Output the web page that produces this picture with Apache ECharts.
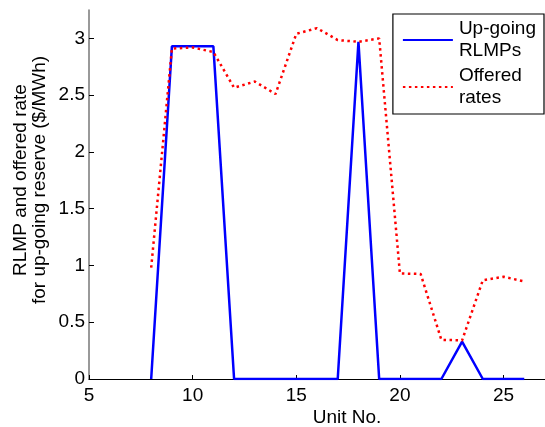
<!DOCTYPE html>
<html>
<head>
<meta charset="utf-8">
<script src="https://cdn.jsdelivr.net/npm/echarts@6/dist/echarts.min.js"></script>
<style>
  html, body { margin: 0; padding: 0; background: #fff; }
  #chart { width: 545px; height: 427px; }
</style>
</head>
<body>
<div id="chart"></div>
<script>
// unit numbers on the x axis
var units = [8, 9, 10, 11, 12, 13, 14, 15, 16, 17, 18, 19, 20, 21, 22, 23, 24, 25, 26];
// up-going RLMPs ($/MWh)
var rlmp = [0, 2.93, 2.93, 2.93, 0, 0, 0, 0, 0, 0, 2.97, 0, 0, 0, 0, 0.33, 0, 0, 0];
// offered rates ($/MWh)
var offered = [0.98, 2.91, 2.92, 2.88, 2.565, 2.62, 2.51, 3.04, 3.09, 2.985, 2.97, 3.0,
  0.93, 0.925, 0.345, 0.34, 0.87, 0.9, 0.86];
var xTicks = [5, 10, 15, 20, 25];
var yTicks = [0, 0.5, 1, 1.5, 2, 2.5, 3];

var FONT = 'Liberation Sans, Arial, sans-serif';

function pairs(xs, ys) {
  return xs.map(function (x, i) { return [x, ys[i]]; });
}

var chart = echarts.init(document.getElementById('chart'));
chart.setOption({
  animation: false,
  backgroundColor: '#fff',
  grid: { left: 89, right: -2, top: 10, bottom: 48, containLabel: false },
  xAxis: {
    type: 'value',
    min: 5,
    max: 27,
    interval: 5,
    splitLine: { show: false },
    axisLine: { lineStyle: { color: '#000', width: 1 } },
    axisTick: { inside: true, length: 4, customValues: xTicks, lineStyle: { color: '#000' } },
    axisLabel: { customValues: xTicks, color: '#000', fontSize: 19, fontFamily: FONT, margin: 7 }
  },
  yAxis: {
    type: 'value',
    min: 0,
    max: 3.25,
    interval: 0.5,
    splitLine: { show: false },
    axisLine: { lineStyle: { color: '#777', width: 1.5 } },
    axisTick: { inside: true, length: 5, customValues: yTicks, lineStyle: { color: '#000' } },
    axisLabel: { customValues: yTicks, color: '#000', fontSize: 19, fontFamily: FONT, margin: 4 }
  },
  legend: {
    orient: 'vertical',
    right: 1,
    top: 14,
    padding: [4, 8, 5, 9],
    itemWidth: 50,
    itemHeight: 14,
    itemGap: 3,
    borderColor: '#000',
    borderWidth: 1.2,
    borderRadius: 0,
    backgroundColor: '#fff',
    itemStyle: { opacity: 0 },
    formatter: function (name) {
      return name === 'Up-going RLMPs' ? 'Up-going\nRLMPs' : 'Offered\nrates';
    },
    textStyle: { color: '#000', fontSize: 19, lineHeight: 22, fontFamily: FONT, padding: [0, 0, 0, 1] },
    data: ['Up-going RLMPs', 'Offered rates']
  },
  graphic: [
    {
      type: 'text',
      x: 30,
      y: 180,
      rotation: Math.PI / 2,
      style: {
        text: 'RLMP and offered rate\nfor up-going reserve ($/MWh)',
        align: 'center',
        verticalAlign: 'middle',
        fontSize: 19,
        lineHeight: 19,
        fontFamily: FONT,
        fill: '#000'
      }
    },
    {
      type: 'text',
      x: 347,
      y: 418,
      style: {
        text: 'Unit No.',
        align: 'center',
        verticalAlign: 'middle',
        fontSize: 19,
        fontFamily: FONT,
        fill: '#000'
      }
    }
  ],
  series: [
    {
      name: 'Up-going RLMPs',
      type: 'line',
      data: pairs(units, rlmp),
      symbol: 'none',
      lineStyle: { color: '#0000ff', width: 2.5 },
      itemStyle: { color: '#0000ff' }
    },
    {
      name: 'Offered rates',
      type: 'line',
      data: pairs(units, offered),
      symbol: 'none',
      lineStyle: { color: '#ff0000', width: 2.5, type: [2.5, 3.5] },
      itemStyle: { color: '#ff0000' }
    }
  ]
});
</script>
</body>
</html>
